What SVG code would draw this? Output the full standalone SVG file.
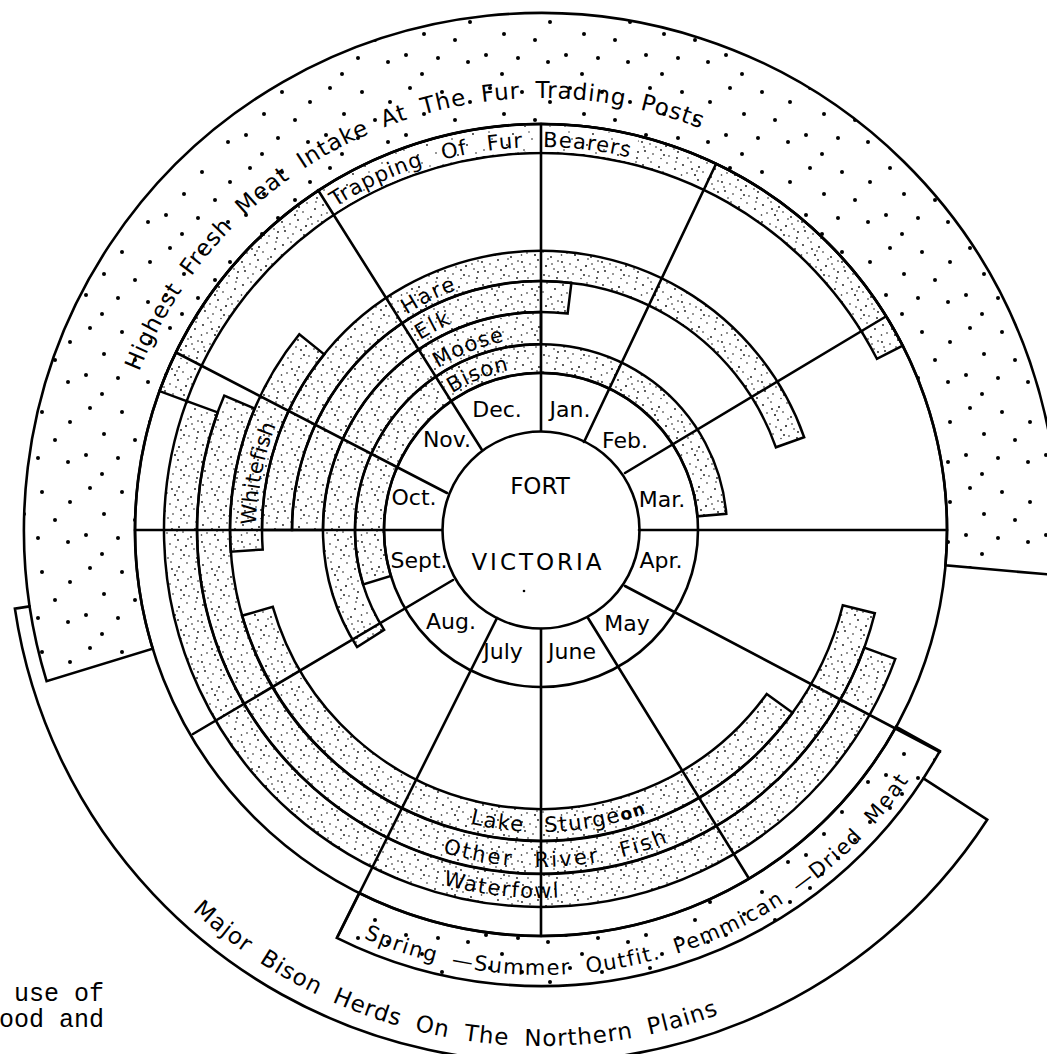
<svg xmlns="http://www.w3.org/2000/svg" width="1047" height="1054" viewBox="0 0 1047 1054">
<defs>
<pattern id="fine" width="40" height="40" patternUnits="userSpaceOnUse">
<g fill="#111">
<circle cx="3" cy="5" r="0.9"/><circle cx="11" cy="2" r="0.8"/><circle cx="19" cy="7" r="1"/><circle cx="27" cy="3" r="0.8"/>
<circle cx="35" cy="9" r="0.9"/><circle cx="7" cy="13" r="0.8"/><circle cx="15" cy="15" r="1"/><circle cx="23" cy="12" r="0.8"/>
<circle cx="31" cy="17" r="0.9"/><circle cx="38" cy="21" r="0.8"/><circle cx="2" cy="22" r="0.9"/><circle cx="10" cy="24" r="0.8"/>
<circle cx="18" cy="20" r="0.9"/><circle cx="26" cy="26" r="1"/><circle cx="34" cy="29" r="0.8"/><circle cx="5" cy="31" r="0.9"/>
<circle cx="13" cy="34" r="0.8"/><circle cx="21" cy="30" r="0.9"/><circle cx="29" cy="36" r="0.8"/><circle cx="37" cy="38" r="0.9"/>
<circle cx="8" cy="38" r="0.8"/><circle cx="16" cy="27" r="0.8"/><circle cx="24" cy="35" r="0.9"/><circle cx="32" cy="24" r="0.8"/>
<circle cx="1.5" cy="15" r="0.8"/><circle cx="36" cy="2" r="0.8"/><circle cx="12" cy="9" r="0.9"/><circle cx="28" cy="19" r="0.8"/>
<circle cx="4" cy="27" r="0.8"/><circle cx="17" cy="11" r="0.8"/><circle cx="38" cy="32" r="0.9"/><circle cx="21" cy="38.5" r="0.7"/>
</g>
</pattern>
<pattern id="light" width="40" height="40" patternUnits="userSpaceOnUse">
<g fill="#111">
<circle cx="5" cy="6" r="0.9"/><circle cx="22" cy="3" r="0.8"/><circle cx="33" cy="14" r="0.9"/><circle cx="12" cy="19" r="0.8"/>
<circle cx="27" cy="25" r="0.9"/><circle cx="4" cy="30" r="0.8"/><circle cx="18" cy="35" r="0.9"/><circle cx="36" cy="33" r="0.8"/>
<circle cx="9" cy="12" r="0.7"/><circle cx="30" cy="6" r="0.7"/>
</g>
</pattern>
<pattern id="big" width="80" height="80" patternUnits="userSpaceOnUse">
<g fill="#000">
<circle cx="10" cy="8" r="2"/><circle cx="42" cy="12" r="2"/><circle cx="70" cy="22" r="2"/>
<circle cx="24" cy="34" r="2"/><circle cx="55" cy="40" r="2"/><circle cx="6" cy="55" r="2"/>
<circle cx="38" cy="58" r="2"/><circle cx="68" cy="62" r="2"/><circle cx="22" cy="74" r="2"/>
</g>
</pattern>
<path id="pHighest" d="M139.1,371.7 A432,432 0 0 1 757,155.9"/>
<path id="pTrap" d="M335.2,207 A383,383 0 0 1 702.9,182.9"/>
<path id="pHare" d="M406.4,314.6 A256,256 0 0 1 541,274"/>
<path id="pElk" d="M420.1,340.2 A225,225 0 0 1 541,305"/>
<path id="pMoose" d="M437.8,368.1 A192,192 0 0 1 541,338"/>
<path id="pBison" d="M452.2,393.3 A163,163 0 0 1 541,367"/>
<path id="pWhite" d="M256,525 A285,285 0 0 1 294.2,387.5"/>
<path id="pLake" d="M470,823.5 A302,302 0 0 0 692,791.5"/>
<path id="pOther" d="M442.5,852.3 A337,337 0 0 0 709.5,821.8"/>
<path id="pWater" d="M442.7,884.6 A368,368 0 0 0 636.2,885.5"/>
<path id="pPem" d="M363.6,938.1 A445,445 0 0 0 928.3,749.1"/>
<path id="pMajor" d="M192.4,910.4 A516,516 0 0 0 759.1,997.7"/>
</defs>
<style>
.ln{fill:none;stroke:#000;stroke-width:2.6;stroke-linecap:round}
.band{fill:url(#fine);stroke:#000;stroke-width:2.5;stroke-linejoin:miter}
.sparse{fill:url(#big);stroke:#000;stroke-width:2.6}
.t{font-family:"DejaVu Sans","Liberation Sans",sans-serif;fill:#000}
.m{font-size:22px;text-anchor:middle}
.b{font-size:21px}
.mono{font-family:"Liberation Mono","Courier New",monospace;font-size:25px;text-anchor:end;fill:#000}
</style>
<rect width="1047" height="1054" fill="#fff"/>

<g id="outer-rings">
<path id="fresh-meat-ring" class="sparse" d="M46.6,681.2 A517,517 0 1 1 1056,575.1 L945.5,565.4 A406,406 0 1 0 152.7,648.7 Z"/>
<path id="pemmican-band" class="sparse" d="M939.8,751.1 A456,456 0 0 1 336.8,937.8 L359.2,893 A406,406 0 0 0 896.1,726.8 Z"/>
<path id="bison-herds-ring" class="ln" d="M29.7,606.4 L14.9,608.6 A532,532 0 0 0 987.2,819.7 L923.4,778.3"/>
</g>

<g id="bands">
<path id="band-trapping" class="band" d="M159.5,391.1 A406,406 0 0 1 902.7,345.7 L876.9,358.8 A377,377 0 0 0 186.7,401.1 Z"/>
<path id="trapping-label-area" fill="#fff" d="M318.9,191.9 A404.5,404.5 0 0 1 638.9,137.5 L632.6,162.7 A378.5,378.5 0 0 0 333.2,213.7 Z"/>
<path fill="url(#light)" d="M318.9,191.9 A404.5,404.5 0 0 1 638.9,137.5 L632.6,162.7 A378.5,378.5 0 0 0 333.2,213.7 Z"/>
<path id="band-waterfowl" class="band" d="M895.3,658.9 A377,377 0 1 1 186.7,401.1 L217.7,412.4 A344,344 0 1 0 864.3,647.6 Z"/>
<path id="band-riverfish" class="band" d="M874.8,613.2 A344,344 0 1 1 224.3,395.6 L254.7,408.5 A311,311 0 1 0 842.8,605.2 Z"/>
<path id="band-sturgeon" class="band" d="M792.6,712.8 A311,311 0 0 1 242,615.7 L272.8,606.9 A279,279 0 0 0 766.7,694 Z"/>
<path id="band-whitefish" class="band" d="M230.7,551.7 A311,311 0 0 1 299.3,334.3 L324.2,354.4 A279,279 0 0 0 262.7,549.5 Z"/>
<path id="band-hare" class="band" d="M262,530 A279,279 0 0 1 804.2,437.3 L775.9,447.3 A249,249 0 0 0 292,530 Z"/>
<path id="band-elk" class="band" d="M292,530 A249,249 0 0 1 571.4,282.9 L567.6,313.6 A218,218 0 0 0 323,530 Z"/>
<path id="band-moose" class="band" d="M357.1,647.1 A218,218 0 0 1 541,312 L541,344 A186,186 0 0 0 384.1,629.9 Z"/>
<path id="band-bison" class="band" d="M363.1,584.4 A186,186 0 1 1 726.3,513.8 L697.4,516.3 A157,157 0 1 0 390.9,575.9 Z"/>
</g>

<g id="circles">
<circle class="ln" cx="541" cy="530" r="406"/>
<circle id="month-ring" class="ln" cx="541" cy="530" r="157"/>
<circle id="fort-victoria" cx="541" cy="530" r="98.5" fill="#fff" stroke="#000" stroke-width="2.6"/>
<circle cx="524" cy="591" r="1.3" fill="#000"/>
</g>

<g id="connectors">
<line class="ln" x1="541" y1="431" x2="541" y2="124"/>
<line class="ln" x1="584" y1="442" x2="716" y2="164"/>
<line class="ln" x1="625" y1="473" x2="885" y2="317"/>
<line class="ln" x1="639" y1="530" x2="947" y2="530"/>
<line class="ln" x1="625" y1="586" x2="940" y2="752"/>
<line class="ln" x1="588" y1="618" x2="748" y2="877"/>
<line class="ln" x1="541" y1="629" x2="541" y2="936"/>
<line class="ln" x1="497" y1="618" x2="338" y2="936"/>
<line class="ln" x1="453" y1="580" x2="193" y2="734"/>
<line class="ln" x1="442" y1="530" x2="135" y2="530"/>
<line class="ln" x1="447" y1="493" x2="177" y2="353"/>
<line class="ln" x1="482" y1="450" x2="318" y2="190"/>
</g>

<g id="labels" class="t">
<text x="540" y="494" font-size="23" text-anchor="middle">FORT</text>
<text x="538" y="570" font-size="23" text-anchor="middle" letter-spacing="3">VICTORIA</text>
<text class="m" x="497" y="417">Dec.</text>
<text class="m" x="570" y="417">Jan.</text>
<text class="m" x="447" y="447">Nov.</text>
<text class="m" x="625" y="448">Feb.</text>
<text class="m" x="414" y="505">Oct.</text>
<text class="m" x="662" y="507">Mar.</text>
<text class="m" x="419" y="568">Sept.</text>
<text class="m" x="661" y="568">Apr.</text>
<text class="m" x="451" y="629">Aug.</text>
<text class="m" x="627" y="631">May</text>
<text class="m" x="503" y="659">July</text>
<text class="m" x="572" y="659">June</text>

<text font-size="23" letter-spacing="0.8" word-spacing="7"><textPath href="#pHighest">Highest Fresh Meat Intake At The Fur Trading Posts</textPath></text>
<text class="b" letter-spacing="1" word-spacing="12"><textPath href="#pTrap">Trapping Of Fur Bearers</textPath></text>
<text class="b" letter-spacing="2"><textPath href="#pHare">Hare</textPath></text>
<text class="b" letter-spacing="2"><textPath href="#pElk">Elk</textPath></text>
<text class="b" letter-spacing="1"><textPath href="#pMoose">Moose</textPath></text>
<text class="b" letter-spacing="1"><textPath href="#pBison">Bison</textPath></text>
<text class="b" letter-spacing="0.5"><textPath href="#pWhite">Whitefish</textPath></text>
<text class="b" letter-spacing="1.5" word-spacing="12"><textPath href="#pLake">Lake Sturge<tspan font-weight="bold" font-size="17">on</tspan></textPath></text>
<text class="b" letter-spacing="2.5" word-spacing="12"><textPath href="#pOther">Other River Fish</textPath></text>
<text class="b" letter-spacing="1.5"><textPath href="#pWater">Waterfowl</textPath></text>
<text class="b" letter-spacing="1.5" word-spacing="7"><textPath href="#pPem">Spring —Summer Outfit. Pemmican —Dried Meat</textPath></text>
<text font-size="23" letter-spacing="1" word-spacing="7"><textPath href="#pMajor">Major Bison Herds On The Northern Plains</textPath></text>
</g>

<g id="caption">
<text class="mono" x="104" y="1001">use of</text>
<text class="mono" x="104" y="1027">ood and</text>
</g>
</svg>
